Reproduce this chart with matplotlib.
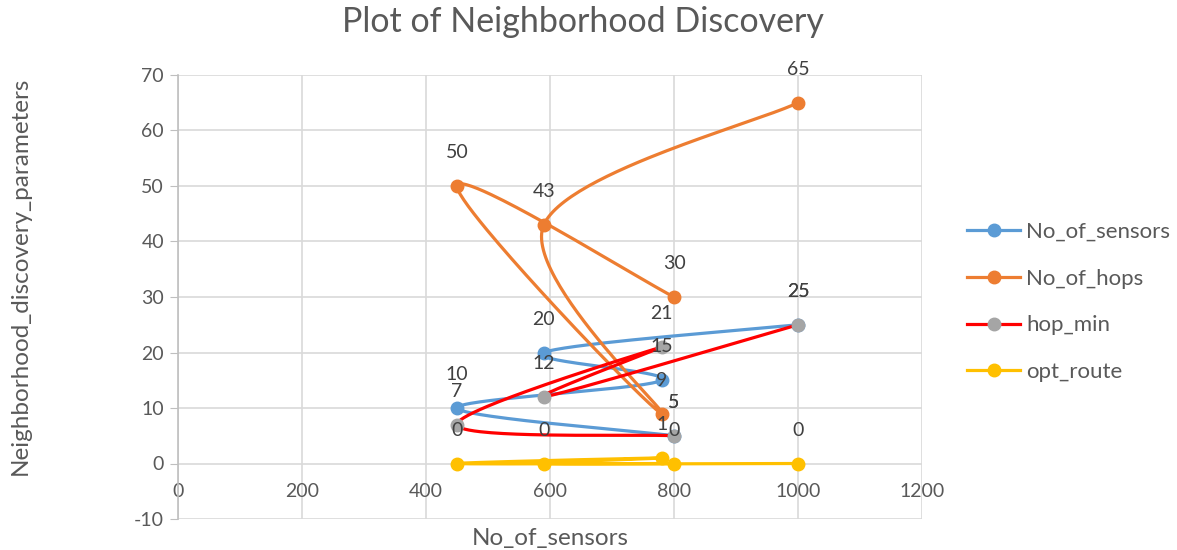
import numpy as np
import matplotlib
matplotlib.use("Agg")
import matplotlib.pyplot as plt
from matplotlib.lines import Line2D

# ---- data ----
x_sensors = [800, 450, 780, 590, 1000]
series_names = ["No_of_sensors", "No_of_hops", "hop_min", "opt_route"]
no_of_sensors = [5, 10, 15, 20, 25]
no_of_hops = [30, 50, 9, 43, 65]
hop_min = [5, 7, 21, 12, 25]
opt_route = [0, 0, 1, 0, 0]
x_ticks = [0, 200, 400, 600, 800, 1000, 1200]
y_ticks = [-10, 0, 10, 20, 30, 40, 50, 60, 70]

line_colors = ["#5B9BD5", "#ED7D31", "#FF0000", "#FFC000"]
marker_colors = ["#5B9BD5", "#ED7D31", "#A5A5A5", "#FFC000"]
values = [no_of_sensors, no_of_hops, hop_min, opt_route]

FONT = "Lato"
plt.rcParams["font.family"] = [FONT, "DejaVu Sans"]
plt.rcParams["axes.unicode_minus"] = False
TXT = "#595959"

fig = plt.figure(figsize=(11.77, 5.5), dpi=100)
W, H = 1177, 550
ax = fig.add_axes([178 / W, (H - 519) / H, (922 - 178) / W, (519 - 75) / H])
ax.set_xlim(0, 1200)
ax.set_ylim(-10, 70)

ax.set_xticks(x_ticks)
ax.set_yticks(y_ticks)
ax.grid(True, color="#D9D9D9", linewidth=1.2)
ax.set_axisbelow(True)
for s in ["top", "right", "bottom"]:
    ax.spines[s].set_visible(False)
ax.spines["left"].set_color("#BFBFBF")
ax.spines["left"].set_linewidth(1.2)
ax.spines["bottom"].set_position(("data", 0))
ax.tick_params(axis="y", length=6, color="#BFBFBF", labelsize=14, labelcolor=TXT, pad=4)
ax.tick_params(axis="x", length=0, labelsize=14, labelcolor=TXT, pad=14)


def smooth(xs, ys):
    pts = ax.transData.transform(np.column_stack([xs, ys]))
    n = len(pts)
    out = []
    t = np.linspace(0, 1, 60)[:, None]
    for i in range(n - 1):
        p0 = pts[i - 1] if i > 0 else pts[i]
        p1 = pts[i]
        p2 = pts[i + 1]
        p3 = pts[i + 2] if i + 2 < n else pts[i + 1]
        c1 = p1 + (p2 - p0) / 6.0
        c2 = p2 - (p3 - p1) / 6.0
        seg = ((1 - t) ** 3) * p1 + 3 * ((1 - t) ** 2) * t * c1 + 3 * (1 - t) * t ** 2 * c2 + t ** 3 * p2
        out.append(seg if i == 0 else seg[1:])
    curve = np.vstack(out)
    d = ax.transData.inverted().transform(curve)
    return d[:, 0], d[:, 1]


handles = []
for k, (name, ys) in enumerate(zip(series_names, values)):
    cx, cy = smooth(x_sensors, ys)
    ax.plot(cx, cy, color=line_colors[k], linewidth=2.3, solid_capstyle="round", zorder=3 + k)
    ax.plot(x_sensors, ys, linestyle="none", marker="o", markersize=9,
            markerfacecolor=marker_colors[k], markeredgecolor=marker_colors[k], zorder=3 + k)
    handles.append(Line2D([0], [0], color=line_colors[k], linewidth=2.3, marker="o",
                          markersize=9, markerfacecolor=marker_colors[k],
                          markeredgecolor=marker_colors[k]))

for k, ys in enumerate(values):
    for xv, yv in zip(x_sensors, ys):
        ax.annotate(str(yv), (xv, yv), xytext=(0, 24), textcoords="offset points",
                    ha="center", va="center", fontsize=14, color="#404040", zorder=10)

fig.text(583 / W, 1 - 22 / H, "Plot of Neighborhood Discovery", ha="center", va="center",
         fontsize=24.5, color=TXT)
fig.text(550 / W, 1 - 538 / H, "No_of_sensors", ha="center", va="center", fontsize=17.5, color=TXT)
fig.text(20 / W, 1 - 276 / H, "Neighborhood_discovery_parameters", ha="center", va="center",
         rotation=90, fontsize=17.5, color=TXT)

leg = fig.legend(handles, series_names, loc="center left", bbox_to_anchor=(967 / W, 1 - 302 / H),
                 frameon=False, fontsize=16, handlelength=2.4, handletextpad=0.25,
                 labelspacing=1.2, borderpad=0, borderaxespad=0)
for t in leg.get_texts():
    t.set_color(TXT)

fig.savefig("out.png", dpi=100)
